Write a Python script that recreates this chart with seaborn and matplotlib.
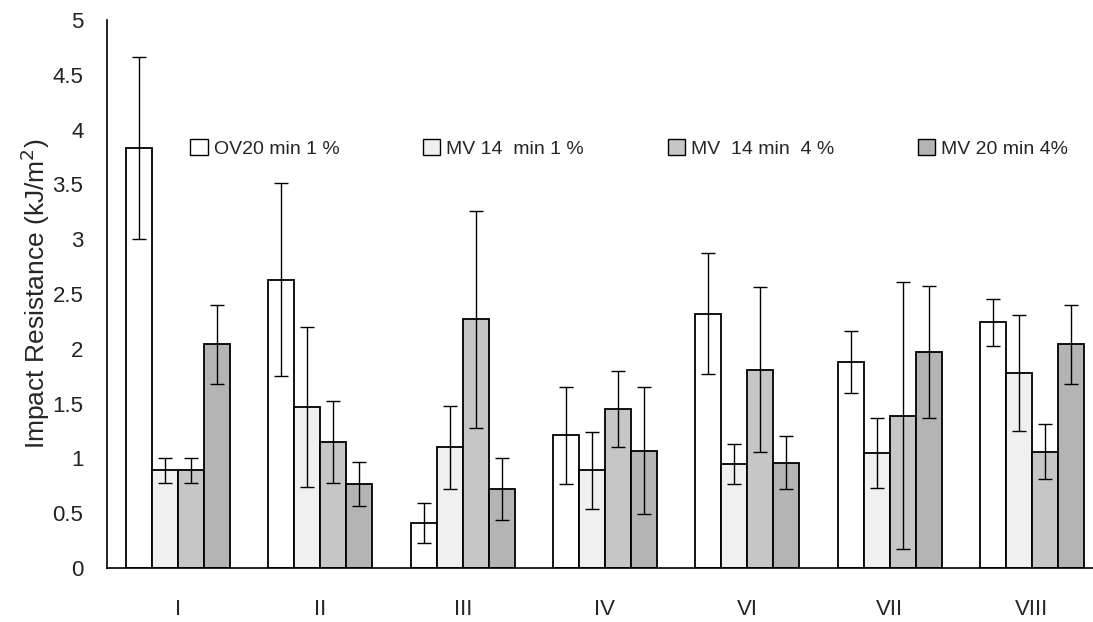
import numpy as np
import pandas as pd
import matplotlib
matplotlib.use("Agg")
import matplotlib.pyplot as plt
import seaborn as sns
from matplotlib.patches import Patch

# Данные
groups = ["I", "II", "III", "IV", "VI", "VII", "VIII"]
series = ["OV20 min 1 %", "MV 14  min 1 %", "MV  14 min  4 %", "MV 20 min 4%"]

ov20_1 = [3.83, 2.63, 0.41, 1.21, 2.32, 1.88, 2.24]
mv14_1 = [0.89, 1.47, 1.10, 0.89, 0.95, 1.05, 1.78]
mv14_4 = [0.89, 1.15, 2.27, 1.45, 1.81, 1.39, 1.06]
mv20_4 = [2.04, 0.77, 0.72, 1.07, 0.96, 1.97, 2.04]

ov20_1_err = [0.83, 0.88, 0.18, 0.44, 0.55, 0.28, 0.21]
mv14_1_err = [0.11, 0.73, 0.38, 0.35, 0.18, 0.32, 0.53]
mv14_4_err = [0.11, 0.37, 0.99, 0.35, 0.75, 1.22, 0.25]
mv20_4_err = [0.36, 0.20, 0.28, 0.58, 0.24, 0.60, 0.36]

values = [ov20_1, mv14_1, mv14_4, mv20_4]
errors = [ov20_1_err, mv14_1_err, mv14_4_err, mv20_4_err]
colors = ["#ffffff", "#f0f0f0", "#c6c6c6", "#b4b4b4"]

rows = []
for s, vals, errs in zip(series, values, errors):
    for g, v, e in zip(groups, vals, errs):
        rows.append({"group": g, "series": s, "value": v, "err": e})
df = pd.DataFrame(rows)

sns.set_style("white")
plt.rcParams["font.family"] = ["Liberation Sans", "DejaVu Sans"]

fig = plt.figure(figsize=(10.93, 6.22), dpi=100)
ax = fig.add_axes([107 / 1093, 54 / 622, 996 / 1093, 548 / 622])

sns.barplot(data=df, x="group", y="value", hue="series", hue_order=series,
            palette=colors, errorbar=None, width=0.73, edgecolor="black",
            linewidth=1.3, legend=False, ax=ax)

# Планки погрешностей
for i, s in enumerate(series):
    cont = ax.containers[i]
    sub = df[df["series"] == s]
    xs = [p.get_x() + p.get_width() / 2 for p in cont.patches]
    ax.errorbar(xs, sub["value"].values, yerr=sub["err"].values, fmt="none",
                ecolor="black", elinewidth=1, capsize=5, capthick=1, zorder=5)

ax.set_xlim(-0.5, 6.5)
ax.set_ylim(0, 5)
ax.set_yticks(np.arange(0, 5.01, 0.5))
ax.set_yticklabels([f"{t:g}" for t in np.arange(0, 5.01, 0.5)], fontsize=16)

ax.set_xticks(np.arange(-0.5, 6.5, 1))
ax.set_xticklabels([])
ax.set_xticks(range(len(groups)), minor=True)
ax.set_xticklabels(groups, minor=True, fontsize=16)
ax.tick_params(axis="x", which="minor", length=0, pad=22)
ax.tick_params(axis="x", which="major", direction="out", length=8, width=1, color="#444444")
ax.tick_params(axis="y", direction="out", length=8, width=1, color="#444444", pad=9)
ax.tick_params(axis="both", colors="#222222", labelcolor="#222222")

sns.despine(ax=ax, top=True, right=True)
for sp in ["left", "bottom"]:
    ax.spines[sp].set_color("black")
    ax.spines[sp].set_linewidth(1.2)

ax.set_xlabel("")
ax.set_ylabel("Impact Resistance (kJ/m$^{2}$)", fontsize=19, labelpad=0)

handles = [Patch(facecolor=c, edgecolor="black", linewidth=1) for c in colors]
ax.legend(handles, series, ncol=4, frameon=False, fontsize=14,
          loc="upper left", bbox_to_anchor=(0.066, 0.815), handlelength=0.9,
          handleheight=0.9, handletextpad=0.3, columnspacing=4.3)

plt.savefig("out.png", dpi=100)
